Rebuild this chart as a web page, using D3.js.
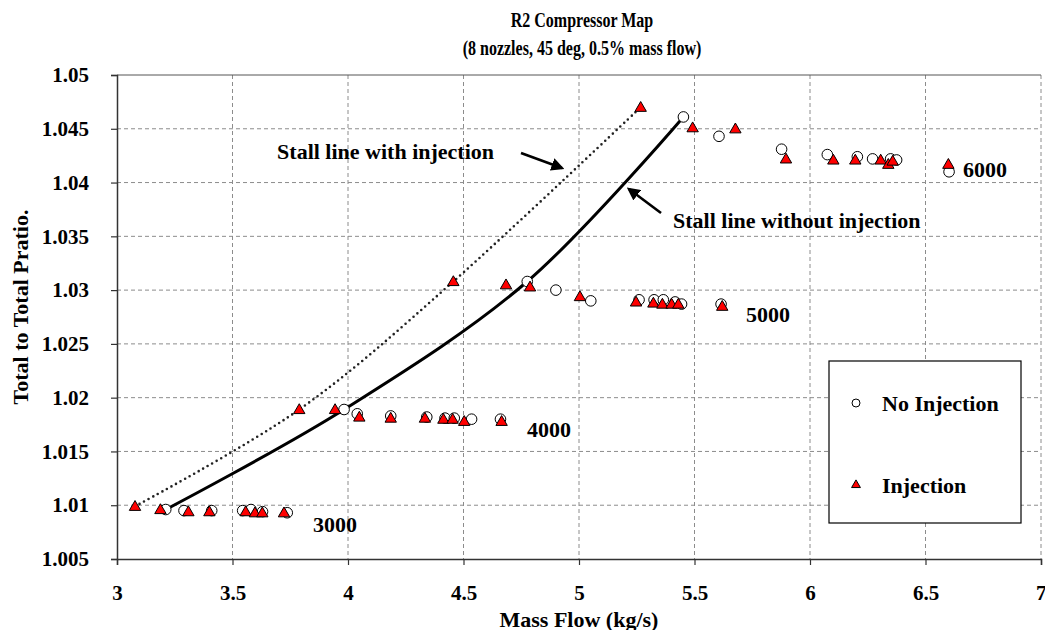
<!DOCTYPE html>
<html><head><meta charset="utf-8">
<script src="https://cdn.jsdelivr.net/npm/d3@7"></script>
<style>
html,body{margin:0;padding:0;background:#fff;}
svg text{font-family:"Liberation Serif","Times New Roman",serif;font-weight:bold;fill:#000;}
</style></head>
<body><svg id="c" width="1045" height="630"></svg>
<script>
// ---- data ----
const xTicks = [3, 3.5, 4, 4.5, 5, 5.5, 6, 6.5, 7];
const yTicks = [1.005, 1.01, 1.015, 1.02, 1.025, 1.03, 1.035, 1.04, 1.045, 1.05];
const yTickLabels = ["1.005","1.01","1.015","1.02","1.025","1.03","1.035","1.04","1.045","1.05"];

const noInj3000X = [3.211, 3.290, 3.41, 3.544, 3.58, 3.63, 3.737];
const noInj3000Y = [1.0096, 1.0095, 1.0095, 1.0095, 1.0096, 1.0094, 1.0093];
const inj3000X = [3.078, 3.188, 3.309, 3.400, 3.557, 3.597, 3.629, 3.723];
const inj3000Y = [1.0099, 1.0096, 1.0094, 1.0094, 1.0094, 1.0093, 1.0093, 1.0093];

const noInj4000X = [3.983, 4.04, 4.185, 4.341, 4.42, 4.46, 4.535, 4.66];
const noInj4000Y = [1.0189, 1.0185, 1.0183, 1.0182, 1.0181, 1.0181, 1.0180, 1.0180];
const inj4000X = [3.789, 3.944, 4.049, 4.185, 4.333, 4.413, 4.453, 4.503, 4.665];
const inj4000Y = [1.0189, 1.0189, 1.0182, 1.0181, 1.0181, 1.0180, 1.0180, 1.0178, 1.0178];

const noInj5000X = [4.776, 4.900, 5.051, 5.260, 5.325, 5.365, 5.416, 5.444, 5.615];
const noInj5000Y = [1.0308, 1.0300, 1.0290, 1.0291, 1.0291, 1.0291, 1.0289, 1.0287, 1.0287];
const inj5000X = [4.456, 4.684, 4.788, 5.004, 5.247, 5.322, 5.361, 5.401, 5.43, 5.620];
const inj5000Y = [1.0308, 1.0305, 1.0303, 1.0294, 1.0289, 1.0288, 1.0287, 1.0287, 1.0287, 1.0285];

const noInj6000X = [5.452, 5.606, 5.877, 6.075, 6.205, 6.271, 6.349, 6.375, 6.602];
const noInj6000Y = [1.0461, 1.0443, 1.0431, 1.0426, 1.0424, 1.0422, 1.0422, 1.0421, 1.0410];
const inj6000X = [5.267, 5.492, 5.677, 5.896, 6.101, 6.196, 6.306, 6.339, 6.358, 6.599];
const inj6000Y = [1.0470, 1.0451, 1.0450, 1.0422, 1.0421, 1.0421, 1.0421, 1.0417, 1.0420, 1.0417];

const stallInjX = [3.078, 3.789, 4.456, 5.267];
const stallInjY = [1.0099, 1.0189, 1.0308, 1.0470];
const stallNoInjX = [3.211, 3.983, 4.776, 5.452];
const stallNoInjY = [1.0096, 1.0189, 1.0308, 1.0461];

const speedLabels = ["3000", "4000", "5000", "6000"];
const speedLabelX = [3.848, 4.775, 5.723, 6.662];
const speedLabelY = [1.0082, 1.0170, 1.0277, 1.0412];

const annoText = ["Stall line with injection", "Stall line without injection"];
const annoTextX = [3.693, 5.407];
const annoTextY = [1.04285, 1.03643];
const arrowFromX = [4.749, 5.355], arrowFromY = [1.04275, 1.03717];
const arrowToX = [4.926, 5.216], arrowToY = [1.04135, 1.03940];

const titleLines = ["R2 Compressor Map", "(8 nozzles, 45 deg, 0.5% mass flow)"];
const legendLabels = ["No Injection", "Injection"];

// ---- layout ----
const svg = d3.select("#c");
const L = 117, R = 1041, T = 75, B = 559;
const x = d3.scaleLinear().domain([3, 7]).range([L, R]);
const y = d3.scaleLinear().domain([1.005, 1.05]).range([B, T]);
const zip = (xs, ys) => xs.map((v, i) => [v, ys[i]]);

// gridlines
const g = svg.append("g");
g.selectAll(".vg").data(xTicks.slice(1)).join("line")
  .attr("x1", d => x(d)).attr("x2", d => x(d)).attr("y1", T).attr("y2", B)
  .attr("stroke", "#8c8c8c").attr("stroke-width", 1).attr("stroke-dasharray", "4,3");
g.selectAll(".hg").data(yTicks.slice(1, -1)).join("line")
  .attr("x1", L).attr("x2", R).attr("y1", d => y(d)).attr("y2", d => y(d))
  .attr("stroke", "#8c8c8c").attr("stroke-width", 1).attr("stroke-dasharray", "4,3");
g.append("line").attr("x1", L).attr("x2", R).attr("y1", y(1.05)).attr("y2", y(1.05))
  .attr("stroke", "#555").attr("stroke-width", 1);

// axes
const xAxis = d3.axisBottom(x).tickValues(xTicks).tickFormat(d3.format("")).tickSize(6).tickPadding(20);
const yAxis = d3.axisLeft(y).tickValues(yTicks).tickFormat((d, i) => yTickLabels[i]).tickSize(6).tickPadding(22);
const gx = svg.append("g").attr("transform", `translate(0,${B})`).call(xAxis);
const gy = svg.append("g").attr("transform", `translate(${L},0)`).call(yAxis);
[gx, gy].forEach(a => {
  a.select(".domain").attr("stroke", "#333").attr("stroke-width", 1.5);
  a.selectAll(".tick line").attr("stroke", "#333").attr("stroke-width", 1.2);
  a.selectAll("text").style("font-size", "21px").style("font-family", '"Liberation Serif",serif').style("font-weight", "bold").attr("fill", "#000");
});
// keep the last x label inside the picture
gx.selectAll(".tick").filter(d => d === 7).select("text").attr("text-anchor", "end").attr("dx", "5px");

// stall lines
const line = d3.line().x(d => x(d[0])).y(d => y(d[1])).curve(d3.curveCardinal.tension(0));
svg.append("path").datum(zip(stallInjX, stallInjY)).attr("d", line)
  .attr("fill", "none").attr("stroke", "#222").attr("stroke-width", 2.6)
  .attr("stroke-dasharray", "0,5.2").attr("stroke-linecap", "round");
svg.append("path").datum(zip(stallNoInjX, stallNoInjY)).attr("d", line)
  .attr("fill", "none").attr("stroke", "#000").attr("stroke-width", 3);

// markers
const noInj = [].concat(zip(noInj3000X, noInj3000Y), zip(noInj4000X, noInj4000Y), zip(noInj5000X, noInj5000Y), zip(noInj6000X, noInj6000Y));
const inj = [].concat(zip(inj3000X, inj3000Y), zip(inj4000X, inj4000Y), zip(inj5000X, inj5000Y), zip(inj6000X, inj6000Y));
const tri = d3.symbol().type(d3.symbolTriangle).size(56);
svg.append("g").selectAll("circle").data(noInj).join("circle")
  .attr("cx", d => x(d[0])).attr("cy", d => y(d[1])).attr("r", 5.3)
  .attr("fill", "#fff").attr("stroke", "#000").attr("stroke-width", 1);
svg.append("g").selectAll("path").data(inj).join("path")
  .attr("d", tri).attr("transform", d => `translate(${x(d[0])},${y(d[1]) + 0.8})`)
  .attr("fill", "#ff0000").attr("stroke", "#000").attr("stroke-width", 1);

// speed labels
svg.append("g").selectAll("text").data(speedLabels).join("text")
  .attr("x", (d, i) => x(speedLabelX[i])).attr("y", (d, i) => y(speedLabelY[i]))
  .attr("dominant-baseline", "central").style("font-size", "22px").text(d => d);

// annotations
svg.append("defs").append("marker").attr("id", "ah").attr("viewBox", "0 0 10 10")
  .attr("refX", 8).attr("refY", 5).attr("markerWidth", 5).attr("markerHeight", 5)
  .attr("orient", "auto").attr("markerUnits", "strokeWidth")
  .append("path").attr("d", "M0,0 L10,5 L0,10 Z").attr("fill", "#000");
svg.append("g").selectAll("text").data(annoText).join("text")
  .attr("x", (d, i) => x(annoTextX[i])).attr("y", (d, i) => y(annoTextY[i]))
  .attr("dominant-baseline", "central").style("font-size", "22px").text(d => d);
svg.append("g").selectAll("line").data(arrowFromX).join("line")
  .attr("x1", (d, i) => x(arrowFromX[i])).attr("y1", (d, i) => y(arrowFromY[i]))
  .attr("x2", (d, i) => x(arrowToX[i])).attr("y2", (d, i) => y(arrowToY[i]))
  .attr("stroke", "#000").attr("stroke-width", 2.6).attr("marker-end", "url(#ah)");

// titles (condensed bold serif)
svg.append("g").selectAll("text").data(titleLines).join("text")
  .attr("transform", (d, i) => `translate(${(L + R) / 2 + 3},${20 + i * 28}) scale(0.8,1)`)
  .attr("text-anchor", "middle").attr("dominant-baseline", "central")
  .style("font-size", "20px").text(d => d);
svg.append("text").attr("x", (L + R) / 2).attr("y", 619).attr("text-anchor", "middle")
  .attr("dominant-baseline", "central").style("font-size", "22px").text("Mass Flow (kg/s)");
svg.append("text").attr("transform", `translate(20,${(T + B) / 2 - 10}) rotate(-90)`).attr("text-anchor", "middle")
  .attr("dominant-baseline", "central").style("font-size", "22px").text("Total to Total Pratio.");

// legend
const lg = svg.append("g").attr("transform", "translate(829,361)");
lg.append("rect").attr("width", 192).attr("height", 162).attr("fill", "#fff").attr("stroke", "#000").attr("stroke-width", 1.2);
lg.append("circle").attr("cx", 27).attr("cy", 42).attr("r", 4).attr("fill", "#fff").attr("stroke", "#000");
lg.append("path").attr("d", d3.symbol().type(d3.symbolTriangle).size(34)).attr("transform", "translate(27,124)")
  .attr("fill", "#ff0000").attr("stroke", "#000");
lg.selectAll(".lt").data(legendLabels).join("text")
  .attr("x", 53).attr("y", (d, i) => 42 + i * 82).attr("dominant-baseline", "central")
  .style("font-size", "22px").text(d => d);
</script></body></html>
